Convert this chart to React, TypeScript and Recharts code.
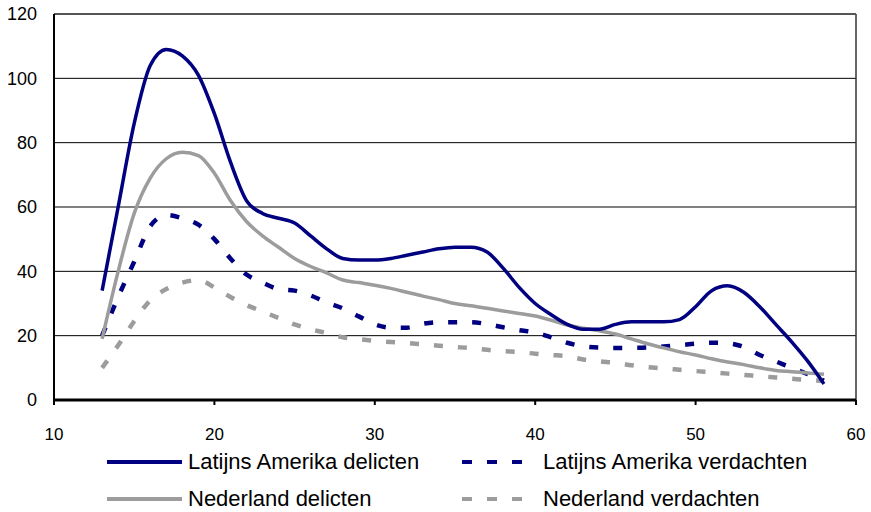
import { LineChart, Line, XAxis, YAxis, CartesianGrid, Legend, ReferenceLine } from 'recharts';

// leeftijd 13 t/m 58
const ages = [
  13, 14, 15, 16, 17, 18, 19, 20, 21, 22, 23, 24, 25, 26, 27, 28, 29, 30, 31, 32, 33, 34, 35,
  36, 37, 38, 39, 40, 41, 42, 43, 44, 45, 46, 47, 48, 49, 50, 51, 52, 53, 54, 55, 56, 57, 58,
];

const laDelicten = [
  34, 60, 86, 104, 109, 107, 101, 89, 74, 62, 58, 56.5, 55, 51, 47, 44, 43.5, 43.5, 44, 45, 46, 47, 47.5,
  47.5, 46, 41, 35, 30, 26.5, 23.5, 22, 22, 23.5, 24.3, 24.3, 24.3, 25, 29, 34, 35.5, 33.5, 29, 23.5, 18, 12, 5,
];

const laVerdachten = [
  20, 32, 43, 54, 57.5, 56.5, 54.5, 50, 44, 39, 36.5, 34.5, 34, 32.5, 30.3, 28.5, 26, 23.5, 22.5, 22.5, 23.7, 24.2, 24.2,
  24.2, 23.6, 22.6, 21.7, 21, 19.5, 17.8, 16.7, 16.3, 16.2, 16.2, 16.3, 16.6, 17, 17.5, 17.8, 17.6, 16.5, 14, 12, 10, 8, 6,
];

const nlDelicten = [
  19, 40, 58, 69, 75, 77, 76, 70.5, 62, 55.5, 51, 47.5, 44, 41.5, 39.5, 37.3, 36.5, 35.7, 34.7, 33.5, 32.3, 31.2, 30,
  29.3, 28.5, 27.7, 26.9, 26.1, 24.8, 23.3, 22.3, 21.5, 20.5, 19, 17.5, 16.2, 15, 14, 12.8, 11.8, 11, 10, 9.2, 8.8, 8.4, 8,
];

const nlVerdachten = [
  10, 17, 24.5, 31, 34.5, 36.5, 37.3, 35, 32, 29.5, 27.5, 25.5, 23.5, 22, 20.8, 19.5, 18.9, 18.4, 18, 17.7, 17.3, 16.9, 16.5,
  16.1, 15.6, 15.2, 14.9, 14.4, 14, 13.6, 12.6, 12, 11.6, 10.8, 10.2, 9.8, 9.4, 9, 8.6, 8.2, 7.8, 7.4, 7, 6.6, 6.2, 6,
];

const xTicks = [10, 20, 30, 40, 50, 60];
const yTicks = [0, 20, 40, 60, 80, 100, 120];

const data = ages.map((age, i) => ({
  age,
  laDelicten: laDelicten[i],
  laVerdachten: laVerdachten[i],
  nlDelicten: nlDelicten[i],
  nlVerdachten: nlVerdachten[i],
}));

const NAVY = '#000080';
const GREY = '#9c9c9c';
const FONT = '"Liberation Sans", Arial, sans-serif';

const legendItems = [
  { label: 'Latijns Amerika delicten', color: NAVY, dash: undefined, x: 107, row: 0 },
  { label: 'Latijns Amerika verdachten', color: NAVY, dash: '10 15', x: 462, row: 0 },
  { label: 'Nederland delicten', color: GREY, dash: undefined, x: 107, row: 1 },
  { label: 'Nederland verdachten', color: GREY, dash: '10 15', x: 462, row: 1 },
];

function ChartLegend() {
  return (
    <div style={{ position: 'relative', width: 871, height: 72, fontFamily: FONT, fontSize: 22 }}>
      {legendItems.map(item => (
        <div key={item.label} style={{ position: 'absolute', left: item.x, top: 4 + item.row * 37, height: 36, display: 'flex', alignItems: 'center' }}>
          <svg width={76} height={8} style={{ display: 'block' }}>
            <line x1={0} y1={4} x2={75} y2={4} stroke={item.color} strokeWidth={4} strokeDasharray={item.dash} />
          </svg>
          <span style={{ marginLeft: 5, color: '#000', whiteSpace: 'nowrap' }}>{item.label}</span>
        </div>
      ))}
    </div>
  );
}

export default function App() {
  return (
    <div>
      <style>{'body{margin:0}'}</style>
      <LineChart width={871} height={512} data={data} margin={{ top: 14, right: 15, left: 0, bottom: 0 }}>
        <CartesianGrid vertical={false} stroke="#000" strokeWidth={1} />
        <XAxis
          dataKey="age"
          type="number"
          domain={[10, 60]}
          ticks={xTicks}
          height={40}
          tickSize={5}
          tickMargin={23}
          axisLine={{ stroke: '#000', strokeWidth: 3 }}
          tickLine={{ stroke: '#000', strokeWidth: 2 }}
          tick={{ fill: '#000', fontSize: 17, fontFamily: FONT }}
        />
        <YAxis
          domain={[0, 120]}
          ticks={yTicks}
          width={54}
          tickSize={0}
          tickMargin={17}
          axisLine={{ stroke: '#000', strokeWidth: 2 }}
          tickLine={false}
          tick={{ fill: '#000', fontSize: 18, fontFamily: FONT }}
        />
        <ReferenceLine x={60} stroke="#333" strokeWidth={1.5} />
        <ReferenceLine y={120} stroke="#555" strokeWidth={2} />
        <Legend verticalAlign="bottom" wrapperStyle={{ left: 0, width: 871 }} content={() => <ChartLegend />} />
        <Line type="monotone" dataKey="nlVerdachten" stroke={GREY} strokeWidth={4.5} strokeDasharray="9 15" dot={false} isAnimationActive={false} />
        <Line type="monotone" dataKey="laVerdachten" stroke={NAVY} strokeWidth={4.5} strokeDasharray="9 15" dot={false} isAnimationActive={false} />
        <Line type="monotone" dataKey="nlDelicten" stroke={GREY} strokeWidth={3.5} dot={false} isAnimationActive={false} />
        <Line type="monotone" dataKey="laDelicten" stroke={NAVY} strokeWidth={3.5} dot={false} isAnimationActive={false} />
      </LineChart>
    </div>
  );
}
